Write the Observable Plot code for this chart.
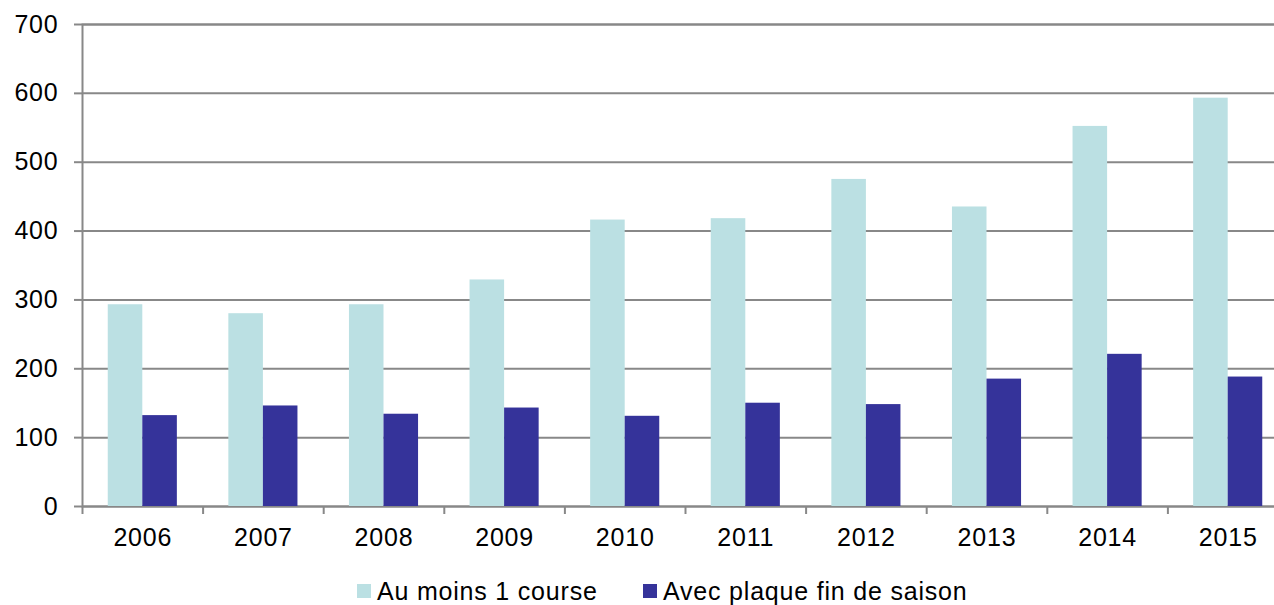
<!DOCTYPE html>
<html>
<head>
<meta charset="utf-8">
<script src="https://cdn.jsdelivr.net/npm/d3@7"></script>
<script src="https://cdn.jsdelivr.net/npm/@observablehq/plot@0.6"></script>
<style>
  html, body { margin: 0; padding: 0; background: #fff; }
  #chart { width: 1274px; height: 560px; font-family: "Liberation Sans", Arial, sans-serif; }
  #chart text { letter-spacing: 0.8px; }
  #legend { position: relative; width: 1274px; height: 45px; font-family: "Liberation Sans", Arial, sans-serif; font-size: 25px; letter-spacing: 0.8px; color: #000; }
  .item { position: absolute; top: 18px; height: 26px; line-height: 26px; display: flex; align-items: center; white-space: nowrap; }
  .sw { width: 14px; height: 14px; margin-right: 6px; display: inline-block; }
</style>
</head>
<body>
<div id="chart"></div>
<div id="legend"></div>
<script>
const years = ["2006", "2007", "2008", "2009", "2010", "2011", "2012", "2013", "2014", "2015"];
const auMoins1Course = [293, 280, 293, 329, 416, 418, 475, 435, 552, 593];
const avecPlaque = [132, 146, 134, 143, 131, 150, 148, 185, 221, 188];
const seriesNames = ["Au moins 1 course", "Avec plaque fin de saison"];
const seriesColors = ["#bbe0e3", "#35339a"];
const yTicks = [0, 100, 200, 300, 400, 500, 600, 700];

const rowsA = years.map((year, i) => ({ year, series: seriesNames[0], value: auMoins1Course[i] }));
const rowsB = years.map((year, i) => ({ year, series: seriesNames[1], value: avecPlaque[i] }));

const gridColor = "#888888";
const xScaleOptions = { type: "band", domain: years, range: [82, 1288], padding: 0, round: false };
const xs = Plot.scale({ x: xScaleOptions });
const bw = xs.bandwidth;
const outerGap = bw * 0.2135; // empty space on each side of a year's pair of bars

const plot = Plot.plot({
  width: 1274,
  height: 560,
  marginTop: 24,
  marginLeft: 82,
  marginRight: 0,
  marginBottom: 54,
  style: { fontFamily: "Liberation Sans, Arial, sans-serif", fontSize: "25px", color: "#000", background: "#fff", overflow: "visible" },
  x: { ...xScaleOptions, axis: null },
  y: { domain: [0, 700], axis: null },
  marks: [
    Plot.ruleY(yTicks, { stroke: gridColor, strokeWidth: 2, strokeOpacity: 1 }),
    Plot.frame({ stroke: gridColor, strokeWidth: 2, strokeOpacity: 1, insetRight: -6 }),
    Plot.axisY({ ticks: yTicks, tickSize: 8, tickPadding: 16, fontSize: 25, stroke: gridColor, strokeWidth: 2, strokeOpacity: 1, fill: "#000", label: null }),
    Plot.barY(rowsA, { x: "year", y: "value", fill: seriesColors[0], insetLeft: outerGap, insetRight: bw / 2 }),
    Plot.barY(rowsB, { x: "year", y: "value", fill: seriesColors[1], insetLeft: bw / 2, insetRight: outerGap }),
    Plot.axisX({ tickSize: 8, dx: -bw / 2, text: null, stroke: gridColor, strokeWidth: 2, strokeOpacity: 1, label: null }),
    Plot.axisX({ tickSize: 0, tickPadding: 22, fontSize: 25, fill: "#000", label: null })
  ]
});

document.getElementById("chart").appendChild(plot);

// legend
const legend = d3.select("#legend");
const legendLeft = [357, 643];
seriesNames.forEach((name, i) => {
  const it = legend.append("div").attr("class", "item").style("left", legendLeft[i] + "px");
  it.append("span").attr("class", "sw").style("background", seriesColors[i]);
  it.append("span").text(name);
});
</script>
</body>
</html>
